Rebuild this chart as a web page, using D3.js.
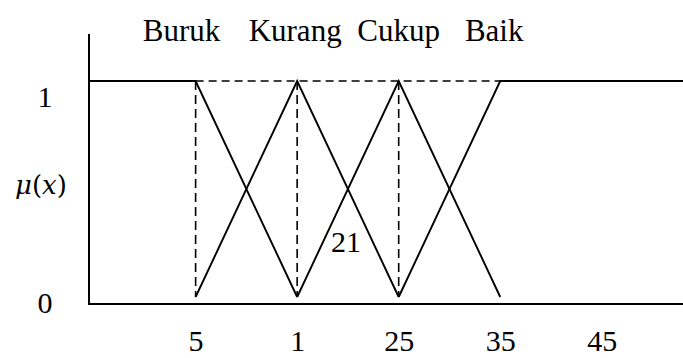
<!DOCTYPE html>
<html>
<head>
<meta charset="utf-8">
<script src="https://cdn.jsdelivr.net/npm/d3@7"></script>
<style>
  html, body { margin: 0; padding: 0; background: #fff; }
  svg { display: block; }
  text { font-family: "Liberation Serif", "Times New Roman", serif; fill: #000; }
</style>
</head>
<body>
<div id="chart"></div>
<script>
// ---- data ----
const categories = ["Buruk", "Kurang", "Cukup", "Baik"];
const categoryPeaks = [5, 15, 25, 35];
const xTickValues = [5, 15, 25, 35, 45];
const xTickLabels = ["5", "1", "25", "35", "45"];
const yTickValues = [0, 1];
const yTickLabels = ["0", "1"];
const xDomain = [-5.5, 53];
const buruk  = [[-5.5, 1], [5, 1], [15, 0]];
const kurang = [[5, 0], [15, 1], [25, 0]];
const cukup  = [[15, 0], [25, 1], [35, 0]];
const baik   = [[25, 0], [35, 1], [53, 1]];
const dashedTop = [[5, 1], [35, 1]];
const dashedVerticals = [5, 15, 25];
const yAxisLabelParts = [["μ", true], ["(", false], ["x", true], [")", false]];
const noteLabel = "21";
const noteX = 19.8;
const noteY = 0.21;

// ---- drawing ----
const W = 683, H = 358;
const svg = d3.select("#chart").append("svg").attr("width", W).attr("height", H);

const x = d3.scaleLinear().domain(xDomain).range([89, 683]);
const y = d3.scaleLinear().domain([0, 1]).range([297, 81]);
const axisY = 304;

const line = d3.line().x(d => x(d[0])).y(d => y(d[1]));

// axes
svg.append("line").attr("x1", x(xDomain[0])).attr("x2", x(xDomain[0]))
  .attr("y1", 34).attr("y2", axisY).attr("stroke", "#000").attr("stroke-width", 2);
svg.append("line").attr("x1", x(xDomain[0]) - 1).attr("x2", W)
  .attr("y1", axisY).attr("y2", axisY).attr("stroke", "#000").attr("stroke-width", 2);

// dashed guides
svg.append("path").attr("d", line(dashedTop)).attr("fill", "none")
  .attr("stroke", "#000").attr("stroke-width", 1.6).attr("stroke-dasharray", "8,5");
svg.selectAll("line.vdash").data(dashedVerticals).enter().append("line")
  .attr("class", "vdash")
  .attr("x1", d => x(d)).attr("x2", d => x(d))
  .attr("y1", y(1)).attr("y2", y(0))
  .attr("stroke", "#000").attr("stroke-width", 1.6).attr("stroke-dasharray", "9,5");

// membership functions
[buruk, kurang, cukup, baik].forEach(s => {
  svg.append("path").attr("d", line(s)).attr("fill", "none")
    .attr("stroke", "#000").attr("stroke-width", 1.9).attr("stroke-linejoin", "miter");
});

// x tick labels
const xAxis = d3.axisBottom(x).tickValues(xTickValues)
  .tickFormat((d, i) => xTickLabels[i]).tickSize(0).tickPadding(0);
const gx = svg.append("g").attr("transform", `translate(0,${axisY})`).call(xAxis);
gx.select(".domain").remove();
gx.selectAll("text").attr("font-size", 30).attr("dy", null).attr("y", 47)
  .style("font-family", '"Liberation Serif", serif');

// y tick labels
const yLabelY = [313, 107];
svg.selectAll("text.ytick").data(yTickValues).enter().append("text")
  .attr("class", "ytick")
  .attr("x", 45).attr("y", (d, i) => yLabelY[i])
  .attr("text-anchor", "middle").attr("font-size", 30)
  .text((d, i) => yTickLabels[i]);

// y axis label
const yl = svg.append("text").attr("x", 41).attr("y", 194).attr("text-anchor", "middle")
  .attr("font-size", 26)
  .style("font-family", '"DejaVu Serif", serif');
yl.selectAll("tspan").data(yAxisLabelParts).enter().append("tspan")
  .attr("font-style", d => d[1] ? "italic" : "normal")
  .text(d => d[0]);

// category labels
const labelDx = [-14, -2, 0, -6];
svg.selectAll("text.cat").data(categories).enter().append("text")
  .attr("class", "cat")
  .attr("x", (d, i) => x(categoryPeaks[i]) + labelDx[i])
  .attr("y", 41).attr("text-anchor", "middle").attr("font-size", 31)
  .text(d => d);

// note
svg.append("text").attr("x", x(noteX)).attr("y", y(noteY))
  .attr("text-anchor", "middle").attr("font-size", 30).text(noteLabel);
</script>
</body>
</html>
